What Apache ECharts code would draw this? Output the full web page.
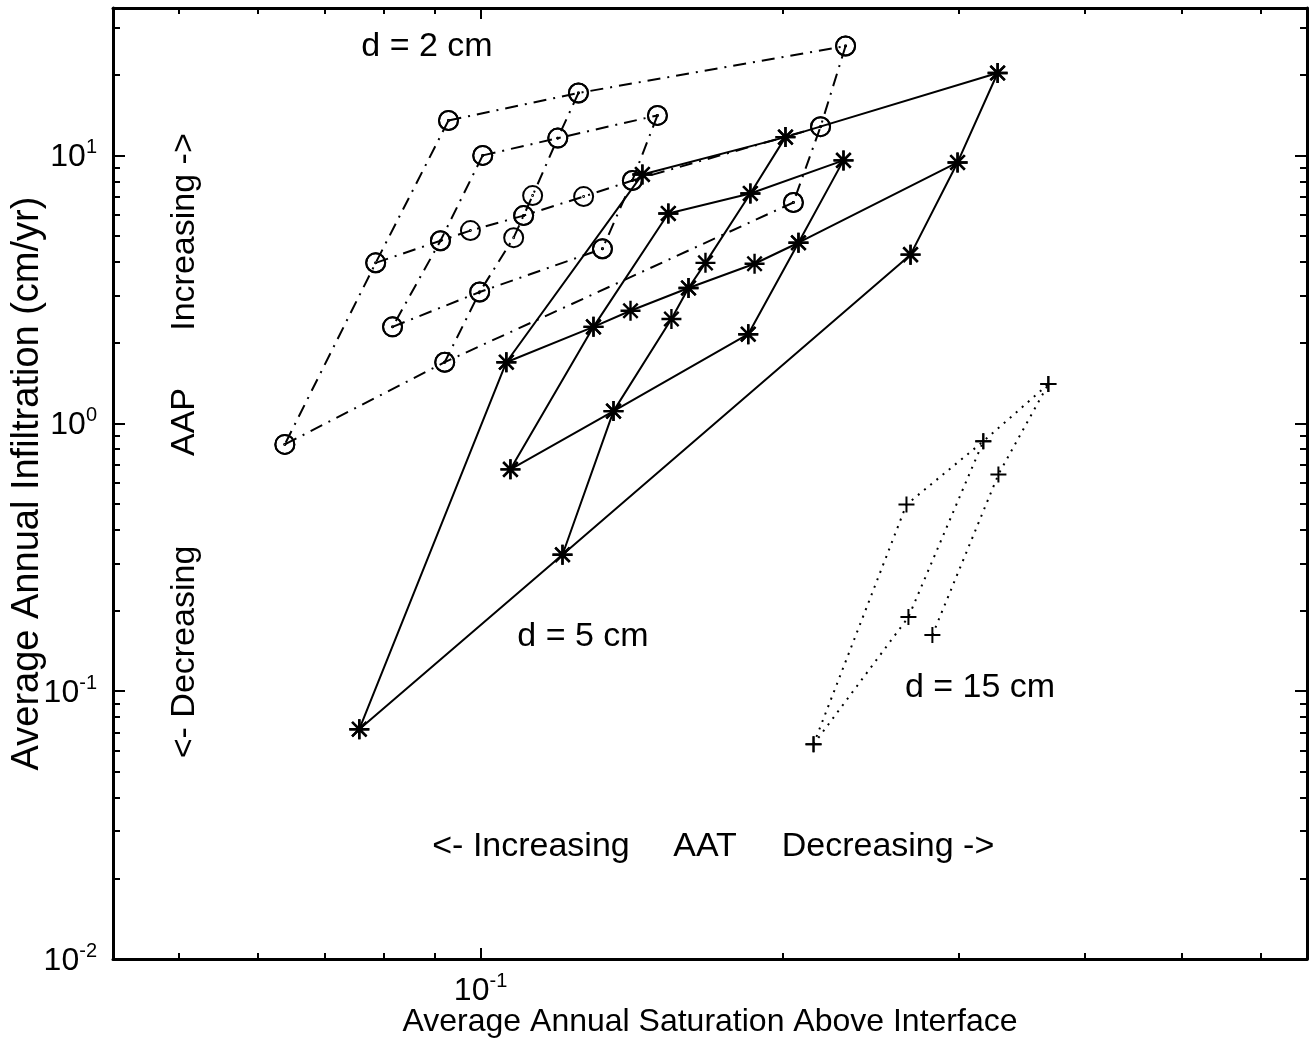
<!DOCTYPE html>
<html>
<head>
<meta charset="utf-8">
<script src="https://cdn.jsdelivr.net/npm/echarts@6/dist/echarts.min.js"></script>
<style>
html, body { margin: 0; padding: 0; background: #fff; }
#main { width: 1310px; height: 1045px; }
</style>
</head>
<body>
<div id="main"></div>
<script>
var myChart = echarts.init(document.getElementById('main'));
var FONT = '"Liberation Sans", Arial, Helvetica, sans-serif';

// tick values
var xMajor = [0.1];
var xMinor = [0.05, 0.06, 0.07, 0.08, 0.09, 0.2, 0.3, 0.4, 0.5, 0.6];
var yMajor = [0.01, 0.1, 1, 10];
var yMinor = [0.02, 0.03, 0.04, 0.05, 0.06, 0.07, 0.08, 0.09,
  0.2, 0.3, 0.4, 0.5, 0.6, 0.7, 0.8, 0.9,
  2, 3, 4, 5, 6, 7, 8, 9, 20, 30];

// d = 2 cm  [saturation, infiltration]
var d2RowTop = [[0.0929, 13.5], [0.1252, 17.1], [0.2312, 25.6]];
var d2Row2 = [[0.1005, 10.0], [0.1194, 11.6], [0.1501, 14.1]];
var d2RowMid = [[0.0786, 3.97], [0.0912, 4.80], [0.0977, 5.24], [0.1104, 5.96], [0.1267, 7.02], [0.1417, 8.06], [0.2183, 12.8]];
var d2Row4 = [[0.0817, 2.29], [0.0998, 3.09], [0.1323, 4.48]];
var d2RowBot = [[0.0638, 0.834], [0.0921, 1.69], [0.2051, 6.67]];
var d2Col1 = [[0.0929, 13.5], [0.0786, 3.97], [0.0638, 0.834]];
var d2Col2 = [[0.1005, 10.0], [0.0912, 4.80], [0.0817, 2.29]];
var d2ColMid = [[0.1252, 17.1], [0.1194, 11.6], [0.1127, 7.08], [0.1104, 5.96], [0.1079, 4.93], [0.0998, 3.09], [0.0921, 1.69]];
var d2Col4 = [[0.1501, 14.1], [0.1417, 8.06], [0.1323, 4.48]];
var d2Col5 = [[0.2312, 25.6], [0.2183, 12.8], [0.2051, 6.67]];

// d = 5 cm
var d5RowTop = [[0.1450, 8.49], [0.2014, 11.7], [0.3278, 20.3]];
var d5Row2 = [[0.1539, 6.07], [0.1858, 7.21], [0.2301, 9.58]];
var d5RowMid = [[0.1061, 1.69], [0.1296, 2.29], [0.1411, 2.63], [0.1612, 3.20], [0.1876, 3.94], [0.2075, 4.72], [0.2990, 9.41]];
var d5Row4 = [[0.1071, 0.673], [0.1357, 1.11], [0.1849, 2.15]];
var d5RowBot = [[0.0757, 0.0721], [0.1207, 0.323], [0.2684, 4.26]];
var d5Col1 = [[0.1450, 8.49], [0.1061, 1.69], [0.0757, 0.0721]];
var d5Col2 = [[0.1539, 6.07], [0.1296, 2.29], [0.1071, 0.673]];
var d5ColMid = [[0.2014, 11.7], [0.1858, 7.21], [0.1676, 3.97], [0.1612, 3.20], [0.1550, 2.45], [0.1357, 1.11], [0.1207, 0.323]];
var d5Col4 = [[0.2301, 9.58], [0.2075, 4.72], [0.1849, 2.15]];
var d5Col5 = [[0.3278, 20.3], [0.2990, 9.41], [0.2684, 4.26]];

// d = 15 cm
var d15LineA = [[0.2148, 0.0633], [0.2659, 0.497], [0.3172, 0.856], [0.3683, 1.40]];
var d15LineB = [[0.2148, 0.0633], [0.2671, 0.189], [0.3172, 0.856]];
var d15LineC = [[0.2822, 0.162], [0.3284, 0.644], [0.3683, 1.40]];

var circleSym = 'path://M0,20A20,20 0 1 0 40,20A20,20 0 1 0 0,20Z M19,20A1,1 0 1 0 21,20A1,1 0 1 0 19,20Z';
var starSym = 'path://M0,-10L0,10M-10,0L10,0M-7.2,-7.2L7.2,7.2M-7.2,7.2L7.2,-7.2';
var plusSym = 'path://M0,-10L0,10M-10,0L10,0';

function mkLine(name, data, kind) {
  var s = {
    name: name,
    type: 'line',
    data: data,
    xAxisIndex: 0,
    yAxisIndex: 0,
    silent: true,
    symbolKeepAspect: true,
    itemStyle: { color: 'none', borderColor: '#000', borderWidth: 2 },
    lineStyle: { color: '#000', width: 2 }
  };
  if (kind === 'd2') {
    s.symbol = circleSym; s.symbolSize = 19;
    s.lineStyle.type = [13, 7, 2, 7];
  } else if (kind === 'd5') {
    s.symbol = starSym; s.symbolSize = 20;
    s.itemStyle.borderWidth = 2.4;
    s.lineStyle.type = 'solid';
  } else {
    s.symbol = plusSym; s.symbolSize = 16;
    s.lineStyle.type = [2, 6];
  }
  return s;
}

var series = [
  mkLine('d2 row 1', d2RowTop, 'd2'), mkLine('d2 row 2', d2Row2, 'd2'),
  mkLine('d2 row 3', d2RowMid, 'd2'), mkLine('d2 row 4', d2Row4, 'd2'),
  mkLine('d2 row 5', d2RowBot, 'd2'), mkLine('d2 col 1', d2Col1, 'd2'),
  mkLine('d2 col 2', d2Col2, 'd2'), mkLine('d2 col 3', d2ColMid, 'd2'),
  mkLine('d2 col 4', d2Col4, 'd2'), mkLine('d2 col 5', d2Col5, 'd2'),
  mkLine('d5 row 1', d5RowTop, 'd5'), mkLine('d5 row 2', d5Row2, 'd5'),
  mkLine('d5 row 3', d5RowMid, 'd5'), mkLine('d5 row 4', d5Row4, 'd5'),
  mkLine('d5 row 5', d5RowBot, 'd5'), mkLine('d5 col 1', d5Col1, 'd5'),
  mkLine('d5 col 2', d5Col2, 'd5'), mkLine('d5 col 3', d5ColMid, 'd5'),
  mkLine('d5 col 4', d5Col4, 'd5'), mkLine('d5 col 5', d5Col5, 'd5'),
  mkLine('d15 a', d15LineA, 'd15'), mkLine('d15 b', d15LineB, 'd15'),
  mkLine('d15 c', d15LineC, 'd15')
];

var XMIN = 0.043, XMAX = 0.667, YMIN = 0.01, YMAX = 35.5;

function powLabel(v) {
  var e = Math.round(Math.log(v) / Math.LN10);
  return '{b|10}{s|' + e + '}';
}
var labelRich = {
  b: { fontFamily: FONT, fontSize: 32, color: '#000', lineHeight: 36, verticalAlign: 'bottom' },
  s: { fontFamily: FONT, fontSize: 20, color: '#000', lineHeight: 20, verticalAlign: 'top' }
};

function mkAxis(dim, pos, ticks, len, isMain, withLabel) {
  var ax = {
    type: 'log',
    logBase: 10,
    position: pos,
    min: dim === 'x' ? XMIN : YMIN,
    max: dim === 'x' ? XMAX : YMAX,
    nameMoveOverlap: false,
    splitLine: { show: false },
    axisLine: { show: isMain, onZero: false, lineStyle: { color: '#000', width: 3 } },
    axisTick: { show: true, inside: true, length: len, customValues: ticks, lineStyle: { color: '#000', width: 2 } },
    axisLabel: { show: false }
  };
  if (withLabel) {
    ax.axisLabel = {
      show: true, customValues: ticks, formatter: powLabel, rich: labelRich,
      margin: dim === 'x' ? 12 : 16
    };
  }
  return ax;
}

var xAxes = [
  mkAxis('x', 'bottom', xMajor, 11, true, true),
  mkAxis('x', 'bottom', xMinor, 6, false, false),
  mkAxis('x', 'top', xMajor, 11, true, false),
  mkAxis('x', 'top', xMinor, 6, false, false)
];
xAxes[0].name = 'Average Annual Saturation Above Interface';
xAxes[0].nameLocation = 'middle';
xAxes[0].nameGap = 47;
xAxes[0].nameTextStyle = { fontFamily: FONT, fontSize: 32, color: '#000' };

var yAxes = [
  mkAxis('y', 'left', yMajor, 12, true, true),
  mkAxis('y', 'left', yMinor, 7, false, false),
  mkAxis('y', 'right', yMajor, 12, true, false),
  mkAxis('y', 'right', yMinor, 7, false, false)
];
yAxes[0].name = 'Average Annual Infiltration (cm/yr)';
yAxes[0].nameLocation = 'middle';
yAxes[0].nameGap = 66;
yAxes[0].nameTextStyle = { fontFamily: FONT, fontSize: 38, color: '#000' };

function txt(x, y, text, rot) {
  return {
    type: 'text', x: x, y: y, rotation: rot || 0, silent: true,
    style: { text: text, font: '34px ' + FONT, fill: '#000', textAlign: 'center', textVerticalAlign: 'middle' }
  };
}

var option = {
  animation: false,
  backgroundColor: '#fff',
  grid: { left: 113, right: 3, top: 8, bottom: 86, containLabel: false, outerBoundsMode: 'none' },
  xAxis: xAxes,
  yAxis: yAxes,
  series: series,
  graphic: [
    txt(427, 47, 'd = 2 cm'),
    txt(583, 637, 'd = 5 cm'),
    txt(980, 688, 'd = 15 cm'),
    txt(531, 847, '<- Increasing'),
    txt(705, 847, 'AAT'),
    txt(888, 847, 'Decreasing ->'),
    txt(185, 652, '<- Decreasing', Math.PI / 2),
    txt(185, 422, 'AAP', Math.PI / 2),
    txt(185, 232, 'Increasing ->', Math.PI / 2)
  ]
};
myChart.setOption(option);
</script>
</body>
</html>
